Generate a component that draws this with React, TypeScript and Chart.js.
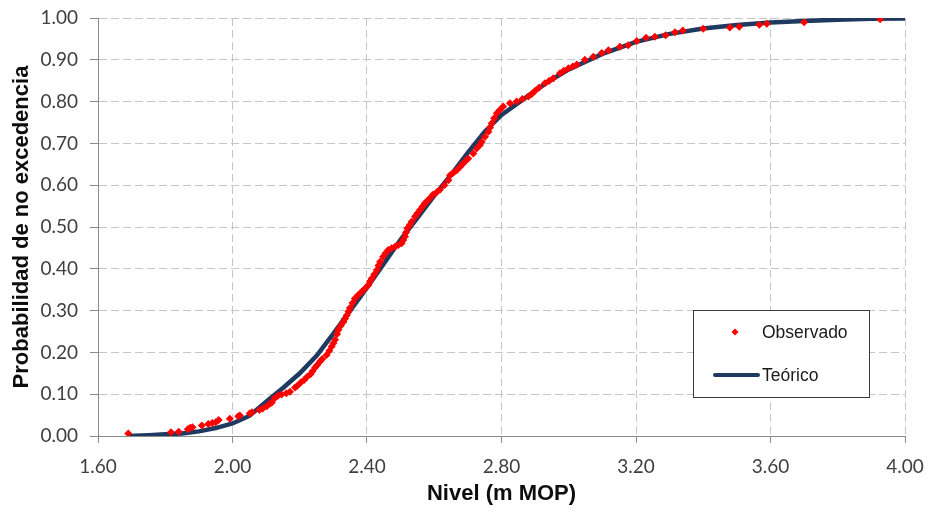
import React, { useEffect, useRef } from "react";
import { Chart, registerables } from "chart.js";

Chart.register(...registerables);

// Observed sea levels (m MOP) and their non-exceedance probability
const observedLevel = [
  1.690, 1.817, 1.840, 1.867, 1.874, 1.881, 1.909, 1.928, 1.940, 1.950,
  1.959, 1.992, 2.017, 2.022, 2.051, 2.058, 2.080, 2.090, 2.102, 2.112,
  2.117, 2.126, 2.135, 2.146, 2.160, 2.171, 2.186, 2.193, 2.203, 2.213,
  2.222, 2.232, 2.238, 2.246, 2.252, 2.261, 2.267, 2.280, 2.288, 2.295,
  2.300, 2.305, 2.311, 2.315, 2.322, 2.330, 2.335, 2.340, 2.345, 2.349,
  2.357, 2.364, 2.373, 2.384, 2.394, 2.404, 2.409, 2.414, 2.422, 2.429,
  2.434, 2.439, 2.448, 2.455, 2.463, 2.473, 2.483, 2.493, 2.503, 2.508,
  2.513, 2.516, 2.520, 2.527, 2.533, 2.543, 2.550, 2.558, 2.565, 2.572,
  2.580, 2.587, 2.596, 2.607, 2.617, 2.630, 2.642, 2.647, 2.657, 2.667,
  2.677, 2.686, 2.696, 2.701, 2.716, 2.726, 2.736, 2.741, 2.751, 2.761,
  2.766, 2.771, 2.778, 2.786, 2.795, 2.805, 2.825, 2.845, 2.862, 2.880,
  2.890, 2.900, 2.912, 2.929, 2.942, 2.954, 2.974, 2.985, 2.999, 3.012,
  3.024, 3.048, 3.073, 3.098, 3.118, 3.152, 3.177, 3.202, 3.230, 3.256,
  3.288, 3.316, 3.339, 3.400, 3.479, 3.507, 3.567, 3.589, 3.700, 3.926,
];
const observedProb = [
  0.006, 0.009, 0.010, 0.016, 0.020, 0.021, 0.025, 0.029, 0.031, 0.033,
  0.038, 0.041, 0.047, 0.049, 0.054, 0.057, 0.062, 0.066, 0.071, 0.078,
  0.080, 0.091, 0.096, 0.099, 0.102, 0.106, 0.116, 0.120, 0.128, 0.134,
  0.142, 0.148, 0.155, 0.164, 0.170, 0.179, 0.184, 0.194, 0.204, 0.214,
  0.222, 0.230, 0.244, 0.254, 0.264, 0.273, 0.281, 0.289, 0.298, 0.306,
  0.318, 0.329, 0.337, 0.345, 0.353, 0.361, 0.370, 0.377, 0.387, 0.397,
  0.408, 0.417, 0.429, 0.437, 0.445, 0.449, 0.453, 0.457, 0.461, 0.469,
  0.477, 0.487, 0.497, 0.505, 0.513, 0.525, 0.533, 0.541, 0.549, 0.557,
  0.563, 0.569, 0.577, 0.583, 0.589, 0.600, 0.612, 0.624, 0.630, 0.636,
  0.644, 0.652, 0.660, 0.664, 0.676, 0.688, 0.696, 0.704, 0.716, 0.728,
  0.738, 0.748, 0.760, 0.772, 0.780, 0.788, 0.796, 0.800, 0.806, 0.812,
  0.818, 0.826, 0.834, 0.844, 0.850, 0.856, 0.868, 0.874, 0.880, 0.884,
  0.889, 0.900, 0.907, 0.916, 0.923, 0.931, 0.935, 0.945, 0.953, 0.955,
  0.959, 0.966, 0.970, 0.974, 0.977, 0.979, 0.984, 0.986, 0.990, 0.997,
];

// Fitted distribution curve
const theoreticalLevel = [
  1.69, 1.75, 1.80, 1.85, 1.90, 1.95, 2.00, 2.05, 2.10, 2.15,
  2.20, 2.25, 2.30, 2.35, 2.40, 2.45, 2.50, 2.55, 2.60, 2.65,
  2.70, 2.75, 2.80, 2.85, 2.90, 2.95, 3.00, 3.10, 3.20, 3.30,
  3.40, 3.50, 3.60, 3.70, 3.80, 3.90, 4.00,
];
const theoreticalProb = [
  0.000, 0.002, 0.004, 0.006, 0.011, 0.019, 0.030, 0.048, 0.082, 0.115,
  0.150, 0.192, 0.245, 0.300, 0.355, 0.412, 0.470, 0.522, 0.575, 0.625,
  0.678, 0.728, 0.768, 0.797, 0.826, 0.853, 0.877, 0.914, 0.943, 0.962,
  0.975, 0.983, 0.989, 0.993, 0.996, 0.998, 0.999,
];

const seriesNames = ["Observado", "Teórico"];
const xTickValues = [1.6, 2.0, 2.4, 2.8, 3.2, 3.6, 4.0];
const yTickValues = [0, 0.1, 0.2, 0.3, 0.4, 0.5, 0.6, 0.7, 0.8, 0.9, 1.0];
const xTitle = "Nivel (m MOP)";
const yTitle = "Probabilidad de no excedencia";

const RED = "#ff0000";
const NAVY = "#1f3a60";
const TICK_FONT = { family: "Lato, 'Open Sans', sans-serif", size: 19 };
const TITLE_FONT = { family: "'Liberation Sans', Arial, sans-serif", size: 22, weight: "bold" as const };

// Boxed legend drawn inside the plot area, lower right
const boxedLegend = {
  id: "boxedLegend",
  afterDraw(chart: any) {
    const { ctx, chartArea } = chart;
    const w = 176;
    const h = 87;
    const x = Math.round(chartArea.right - 212);
    const y = Math.round(chartArea.bottom - 126);
    ctx.save();
    ctx.fillStyle = "#ffffff";
    ctx.fillRect(x, y, w, h);
    ctx.strokeStyle = "#3a3a3a";
    ctx.lineWidth = 1;
    ctx.strokeRect(x + 0.5, y + 0.5, w, h);

    const labels = chart.data.datasets.map((d: any) => d.label);
    ctx.font = "17.5px 'Liberation Sans', Arial, sans-serif";
    ctx.textBaseline = "middle";
    ctx.textAlign = "left";

    // marker entry
    const my = y + 22;
    const mx = x + 42;
    const r = 3.5;
    ctx.fillStyle = RED;
    ctx.beginPath();
    ctx.moveTo(mx, my - r);
    ctx.lineTo(mx + r, my);
    ctx.lineTo(mx, my + r);
    ctx.lineTo(mx - r, my);
    ctx.closePath();
    ctx.fill();
    ctx.fillStyle = "#1a1a1a";
    ctx.fillText(labels[0], x + 69, my + 1);

    // line entry
    const ly = y + 65;
    ctx.strokeStyle = NAVY;
    ctx.lineWidth = 4;
    ctx.lineCap = "round";
    ctx.beginPath();
    ctx.moveTo(x + 22, ly);
    ctx.lineTo(x + 65, ly);
    ctx.stroke();
    ctx.fillText(labels[1], x + 69, ly + 1);
    ctx.restore();
  },
};

export default function App() {
  const canvasRef = useRef<HTMLCanvasElement | null>(null);

  useEffect(() => {
    document.body.style.margin = "0";
    const canvas = canvasRef.current;
    if (!canvas) return;

    const chart = new Chart(canvas, {
      type: "scatter",
      data: {
        datasets: [
          {
            label: seriesNames[0],
            data: observedLevel.map((v, i) => ({ x: v, y: observedProb[i] })),
            backgroundColor: RED,
            borderColor: RED,
            pointStyle: "rectRot",
            pointRadius: 4,
            pointBorderWidth: 0,
            showLine: false,
            order: 0,
          },
          {
            label: seriesNames[1],
            data: theoreticalLevel.map((v, i) => ({ x: v, y: theoreticalProb[i] })),
            borderColor: NAVY,
            backgroundColor: NAVY,
            borderWidth: 4.5,
            pointRadius: 0,
            showLine: true,
            tension: 0,
            order: 1,
          },
        ],
      },
      options: {
        responsive: false,
        animation: false,
        devicePixelRatio: 1,
        layout: { padding: { top: 18, right: 24, left: 0, bottom: 0 } },
        plugins: {
          legend: { display: false },
          tooltip: { enabled: false },
        },
        scales: {
          x: {
            type: "linear",
            min: 1.6,
            max: 4.0,
            afterBuildTicks: (s: any) => {
              s.ticks = xTickValues.map((v) => ({ value: v }));
            },
            afterFit: (s: any) => {
              s.height = 77;
              s.paddingLeft = 0;
              s.paddingRight = 0;
            },
            ticks: {
              autoSkip: false,
              maxRotation: 0,
              padding: 12,
              color: "#404040",
              font: TICK_FONT,
              callback: (v: any) => Number(v).toFixed(2),
            },
            grid: {
              color: "#c6c6c6",
              lineWidth: 1,
              tickLength: 7,
              tickColor: "#8a8a8a",
            },
            border: { display: true, color: "#8a8a8a", width: 1, dash: [8, 4] },
            title: {
              display: true,
              text: xTitle,
              color: "#0d0d0d",
              font: TITLE_FONT,
              padding: { top: 0, bottom: 6 },
            },
          },
          y: {
            type: "linear",
            min: 0,
            max: 1,
            afterBuildTicks: (s: any) => {
              s.ticks = yTickValues.map((v) => ({ value: v }));
            },
            afterFit: (s: any) => {
              s.width = 98;
              s.paddingTop = 0;
              s.paddingBottom = 0;
            },
            ticks: {
              autoSkip: false,
              padding: 12,
              color: "#404040",
              font: TICK_FONT,
              callback: (v: any) => Number(v).toFixed(2),
            },
            grid: {
              color: "#c6c6c6",
              lineWidth: 1,
              tickLength: 8,
              tickColor: "#8a8a8a",
            },
            border: { display: true, color: "#8a8a8a", width: 1, dash: [8, 4] },
            title: {
              display: true,
              text: yTitle,
              color: "#0d0d0d",
              font: TITLE_FONT,
              padding: { top: 9, bottom: 0 },
            },
          },
        },
      },
      plugins: [boxedLegend],
    });

    return () => chart.destroy();
  }, []);

  return (
    <div style={{ width: 929, height: 513, background: "#ffffff" }}>
      <canvas ref={canvasRef} width={929} height={513} style={{ display: "block" }} />
    </div>
  );
}
